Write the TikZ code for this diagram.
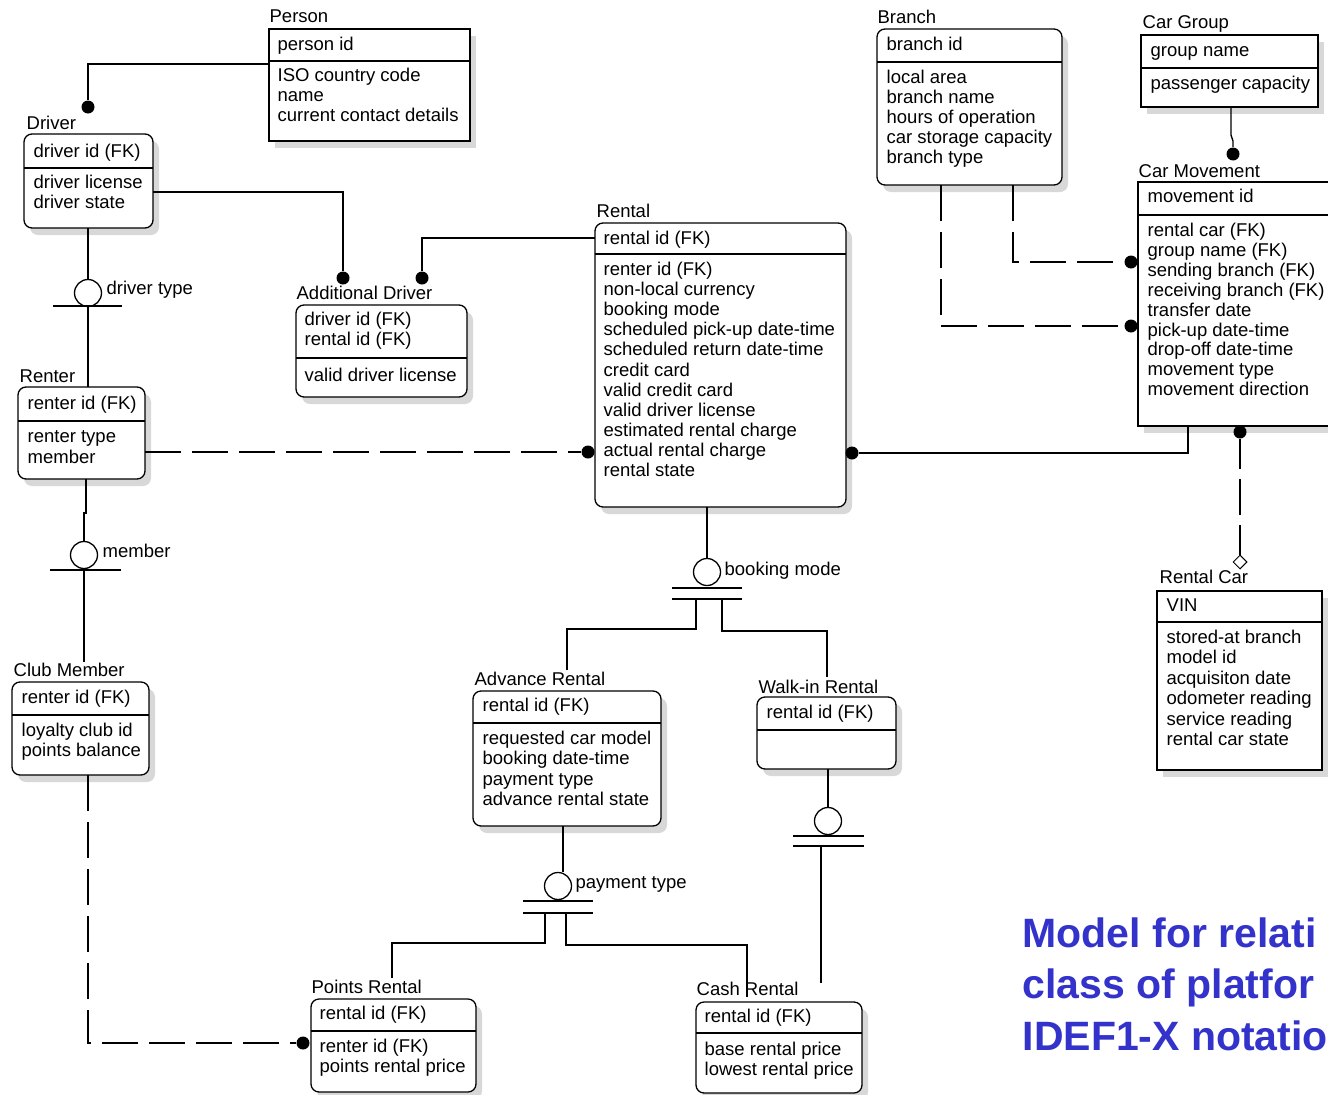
\documentclass[tikz,border=0pt]{standalone}
\usepackage{fontspec}
\setmainfont{Liberation Sans}
\usetikzlibrary{calc,shapes.geometric}
\definecolor{titleblue}{RGB}{51,51,204}
\definecolor{shadowc}{RGB}{216,216,216}
\newcommand\dfont{\fontsize{18.5}{20}\selectfont}
% entity box: name, shape style, left, top, right, bottom, divider y
\newcommand\ment[7]{%
  \fill[shadowc,#2] ({#3+6},{#4+7}) rectangle ({#5+6},{#6+7});
  \node[ebox,#2,minimum width={(#5-#3)*1pt},minimum height={(#6-#4)*1pt}] (#1) at ({(#3+#5)/2},{(#4+#6)/2}) {};
  \draw ({#3},{#7}) -- ({#5},{#7});
}
% rows of text: name, x, first y, step, list
\newcommand\erows[5]{%
  \foreach \t [count=\i from 1] in {#5} {\node[txt] (#1-\i) at ({#2},{#3+#4*(\i-1)}) {\t};}
}
\begin{document}
\begin{tikzpicture}[x=1pt,y=-1pt,line width=1.3pt,
  ebox/.style={draw,fill=white,rectangle,inner sep=0pt,outer sep=0pt},
  rd/.style={rounded corners=8pt},
  sq/.style={},
  txt/.style={anchor=west,inner sep=0pt,font=\dfont,text height=14pt,text depth=3pt},
  ttl/.style={anchor=base west,inner sep=0pt,font=\fontsize{41}{50}\selectfont\bfseries,text=titleblue},
  dot/.style={circle,fill=black,inner sep=0pt,minimum size=13pt},
  subc/.style={circle,draw,fill=white,inner sep=0pt,minimum size=27pt},
  opend/.style={diamond,draw,fill=white,inner sep=0pt,minimum size=14pt,line width=1pt},
  dsh/.style={dash pattern=on 36pt off 11pt},
  dshb/.style={dash pattern=on 30pt off 10pt on 36pt off 10pt on 60pt off 0pt}]
\path[use as bounding box] (0,0) rectangle (1328,1095);
\clip (0,0) rectangle (1328,1095);
\fill[white] (0,0) rectangle (1328,1095);

% ---------- entities ----------
\ment{person}{sq}{269}{29}{470}{141}{61}
\node[txt] (person-t) at (269,17) {Person};
\erows{person-k}{277}{45}{20}{person id}
\erows{person-a}{277}{76}{20}{ISO country code, name, current contact details}

\ment{driver}{rd}{24}{134}{153}{228}{168}
\node[txt] (driver-t) at (26,124) {Driver};
\erows{driver-k}{33}{152}{20}{driver id (FK)}
\erows{driver-a}{33}{183}{20}{driver license, driver state}

\ment{adddrv}{rd}{296}{305}{467}{397}{358}
\node[txt] (adddrv-t) at (296,294) {Additional Driver};
\erows{adddrv-k}{304}{320}{20}{driver id (FK), rental id (FK)}
\erows{adddrv-a}{304}{376}{20}{valid driver license}

\ment{renter}{rd}{18}{387}{145}{479}{421}
\node[txt] (renter-t) at (19,377) {Renter};
\erows{renter-k}{27}{404}{20}{renter id (FK)}
\erows{renter-a}{27}{437}{21}{renter type, member}

\ment{club}{rd}{12}{682}{149}{775}{715}
\node[txt] (club-t) at (13,671) {Club Member};
\erows{club-k}{21}{698}{20}{renter id (FK)}
\erows{club-a}{21}{731}{19.5}{loyalty club id, points balance}

\ment{rental}{rd}{595}{223}{846}{507}{254}
\node[txt] (rental-t) at (596,212) {Rental};
\erows{rental-k}{603}{239}{20}{rental id (FK)}
\erows{rental-a}{603}{270}{20.1}{renter id (FK), non-local currency, booking mode, scheduled pick-up date-time, scheduled return date-time, credit card, valid credit card, valid driver license, estimated rental charge, actual rental charge, rental state}

\ment{advance}{rd}{473}{691}{661}{826}{723}
\node[txt] (advance-t) at (474,680) {Advance Rental};
\erows{advance-k}{482}{706}{20}{rental id (FK)}
\erows{advance-a}{482}{739}{20.3}{requested car model, booking date-time, payment type, advance rental state}

\ment{walkin}{rd}{757}{697}{896}{769}{730}
\node[txt] (walkin-t) at (758,688) {Walk-in Rental};
\erows{walkin-k}{766}{713}{20}{rental id (FK)}

\ment{points}{rd}{311}{999}{476}{1092}{1031}
\node[txt] (points-t) at (311,988) {Points Rental};
\erows{points-k}{319}{1014}{20}{rental id (FK)}
\erows{points-a}{319}{1047}{20}{renter id (FK), points rental price}

\ment{cash}{rd}{696}{1002}{862}{1093}{1033}
\node[txt] (cash-t) at (696,990) {Cash Rental};
\erows{cash-k}{704}{1017}{20}{rental id (FK)}
\erows{cash-a}{704}{1050}{20}{base rental price, lowest rental price}

\ment{branch}{rd}{877}{29}{1062}{185}{62}
\node[txt] (branch-t) at (877,18) {Branch};
\erows{branch-k}{886}{45}{20}{branch id}
\erows{branch-a}{886}{78}{20}{local area, branch name, hours of operation, car storage capacity, branch type}

\ment{cargroup}{sq}{1141}{35}{1318}{107}{68}
\node[txt] (cargroup-t) at (1142,23) {Car Group};
\erows{cargroup-k}{1150}{51}{20}{group name}
\erows{cargroup-a}{1150}{84}{20}{passenger capacity}

\ment{carmove}{sq}{1138}{182}{1345}{426}{215}
\node[txt] (carmove-t) at (1138,172) {Car Movement};
\erows{carmove-k}{1147}{197}{20}{movement id}
\erows{carmove-a}{1147}{231}{19.9}{rental car (FK), group name (FK), sending branch (FK), receiving branch (FK), transfer date, pick-up date-time, drop-off date-time, movement type, movement direction}

\ment{rentalcar}{sq}{1157}{591}{1322}{770}{622}
\node[txt] (rentalcar-t) at (1159,578) {Rental Car};
\erows{rentalcar-k}{1166}{606}{20}{VIN}
\erows{rentalcar-a}{1166}{638}{20.4}{stored-at branch, model id, acquisiton date, odometer reading, service reading, rental car state}

% ---------- relationship ends ----------
\node[dot] (dDrv) at (88,107) {};
\node[dot] (dAD1) at (343,278) {};
\node[dot] (dAD2) at (422,278) {};
\node[dot] (dRR) at (588,452) {};
\node[dot] (dRC) at (852,453) {};
\node[dot] (dPR) at (303,1043) {};
\node[dot] (dCM1) at (1131,262) {};
\node[dot] (dCM2) at (1131,326) {};
\node[dot] (dCG) at (1233,154) {};
\node[dot] (dCR) at (1240,432) {};

% ---------- connectors ----------
\draw ($(person.north west)+(0,35)$) -| (dDrv);
\draw ($(driver.north east)+(0,58)$) -| (dAD1);
\draw ($(rental.north west)+(0,15)$) -| (dAD2);
\draw[dsh] ($(renter.north east)+(0,65)$) -- (dRR);
\draw (dRC) -| ($(carmove.south west)+(50,0)$);
\draw[dsh] ($(club.south)+(7.5,0)$) |- (dPR);
\draw[dsh] ($(branch.south west)+(136,0)$) |- (dCM1);
\draw[dsh] ($(branch.south west)+(64,0)$) |- (dCM2);
\draw ($(cargroup.south west)+(90,0)$) -- ++(0,28) -- ++(2,6) -- (dCG);
\node[opend] (dmRC) at (1240,562) {};
\draw[dshb] (dCR) -- (dmRC.north);

% ---------- categorizations ----------
\node[subc] (cDT) at (88,293) {};
\node[txt,anchor=west] (cDT-l) at (106,289) {driver type};
\draw (driver.south -| cDT) -- (cDT.north);
\draw ($(cDT)+(-35,13)$) -- ++(69,0);
\draw (cDT.south) -- (cDT |- renter.north);

\node[subc] (cMB) at (84,555) {};
\node[txt] (cMB-l) at (102,552) {member};
\draw ($(renter.south)+(4.5,0)$) -- ++(0,34) -- ++(-2,0) -- (cMB.north);
\draw ($(cMB)+(-34,15)$) -- ++(71,0);
\draw (cMB.south) -- (cMB |- club-t.north);

\node[subc] (cBM) at (707,572) {};
\node[txt] (cBM-l) at (724,570) {booking mode};
\draw (rental.south -| cBM) -- (cBM.north);
\draw ($(cBM)+(-35,16)$) -- ++(70,0);
\draw ($(cBM)+(-35,27)$) -- ++(70,0);
\draw ($(cBM)+(-11,27)$) -- ++(0,30) -| ($(advance.north west)+(94,-21)$);
\draw ($(cBM)+(15,27)$) -- ++(0,32) -| ($(walkin.north west)+(70,-20)$);

\node[subc] (cPT) at (558,886) {};
\node[txt] (cPT-l) at (575,883) {payment type};
\draw ($(advance.south west)+(90,0)$) -- ($(cPT.north)+(5,0)$);
\draw ($(cPT)+(-35,15)$) -- ++(70,0);
\draw ($(cPT)+(-35,27)$) -- ++(70,0);
\draw ($(cPT)+(-13,27)$) -- ++(0,30) -| ($(points.north west)+(81,-21)$);
\draw ($(cPT)+(8,27)$) -- ++(0,32) -| ($(cash.north west)+(51,-5)$);

\node[subc] (cWK) at (828,821) {};
\draw (walkin.south -| cWK) -- (cWK.north);
\draw ($(cWK)+(-35,15)$) -- ++(71,0);
\draw ($(cWK)+(-35,25)$) -- ++(71,0);
\draw ($(cWK)+(-7,25)$) -- ($(cash.north west)+(125,-19)$);

% ---------- title ----------
\node[ttl] (title1) at (1022,947) {Model for relati};
\node[ttl] (title2) at (1022,998) {class of platfor};
\node[ttl] (title3) at (1022,1050) {IDEF1-X notatio};
\end{tikzpicture}
\end{document}
